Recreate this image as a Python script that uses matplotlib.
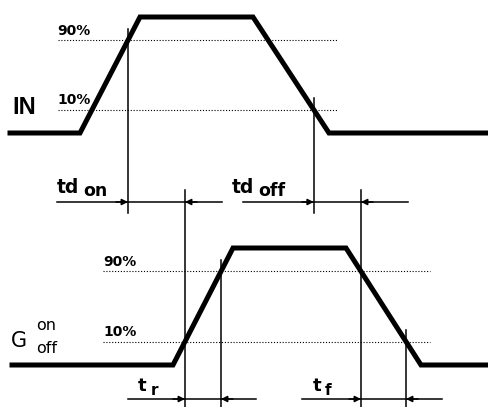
import matplotlib
matplotlib.use("Agg")
import matplotlib.pyplot as plt
import numpy as np

# waveform corner times (x) and levels (0 = low, 1 = high)
in_t = [10, 80, 140, 253, 329, 488]
in_lvl = [0, 0, 1, 1, 0, 0]
g_t = [12, 173, 233, 346, 421, 488]
g_lvl = [0, 0, 1, 1, 0, 0]
# threshold lines as drawn (fraction of swing) and their labels
pct_levels = [0.2, 0.8]
pct_labels = ['10%', '90%']

# vertical layout of the two traces (pixel rows of low / high level)
in_low, in_high = 133, 17
g_low, g_high = 365, 248

fig = plt.figure(figsize=(4.88, 4.07), dpi=100)
ax = fig.add_axes([0, 0, 1, 1])
ax.set_xlim(0, 488)
ax.set_ylim(407, 0)
ax.axis('off')

fam = ['DejaVu Sans']


def lvl_y(lvl, low, high):
    return low - np.asarray(lvl, dtype=float) * (low - high)


def cross(t, lvl, level, rising):
    # crossing time of the rising or falling edge at a given level
    if rising:
        return np.interp(level, [lvl[1], lvl[2]], [t[1], t[2]])
    return np.interp(level, [lvl[4], lvl[3]], [t[4], t[3]])


# waveforms
ax.plot(in_t, lvl_y(in_lvl, in_low, in_high), color='k', lw=3.6, solid_joinstyle='miter')
ax.plot(g_t, lvl_y(g_lvl, g_low, g_high), color='k', lw=3.6, solid_joinstyle='miter')

# dotted 10/90 % lines
for lv, lab in zip(pct_levels, pct_labels):
    y = lvl_y(lv, in_low, in_high)
    ax.plot([58, 338], [y, y], color='k', lw=0.8, ls=(0, (1, 1.6)))
    ax.text(57, y - 5.5, lab, fontsize=10, fontweight='bold', family=fam, va='baseline', ha='left')
    y = lvl_y(lv, g_low, g_high)
    ax.plot([103, 430], [y, y], color='k', lw=0.8, ls=(0, (1, 1.6)))
    ax.text(103, y - 5.5, lab, fontsize=10, fontweight='bold', family=fam, va='baseline', ha='left')

# crossing points
in_on = cross(in_t, in_lvl, 0.8, True)
in_off = cross(in_t, in_lvl, 0.2, False)
g_r10 = cross(g_t, g_lvl, 0.2, True)
g_r90 = cross(g_t, g_lvl, 0.8, True)
g_f90 = cross(g_t, g_lvl, 0.8, False)
g_f10 = cross(g_t, g_lvl, 0.2, False)

# vertical marker lines
vlw = 1.1
ax.plot([in_on, in_on], [29, 213], color='k', lw=vlw)
ax.plot([in_off, in_off], [98, 213], color='k', lw=vlw)
ax.plot([g_r10, g_r10], [190, 407], color='k', lw=vlw)
ax.plot([g_f90, g_f90], [190, 407], color='k', lw=vlw)
ax.plot([g_r90, g_r90], [260, 407], color='k', lw=vlw)
ax.plot([g_f10, g_f10], [330, 407], color='k', lw=vlw)


def dim(x0, x1, y, left_end, right_end):
    # outside-arrows dimension: line with heads pointing inward
    ax.plot([left_end, right_end], [y, y], color='k', lw=vlw)
    ap = dict(arrowstyle='-|>', lw=vlw, color='k', mutation_scale=9, shrinkA=0, shrinkB=0)
    ax.annotate('', xy=(x0, y), xytext=(x0 - 12, y), arrowprops=ap)
    ax.annotate('', xy=(x1, y), xytext=(x1 + 12, y), arrowprops=ap)


dim(in_on, g_r10, 202, 57, 222)
dim(in_off, g_f90, 202, 243, 408)
dim(g_r10, g_r90, 399, 128, 256)
dim(g_f90, g_f10, 399, 302, 442)

# labels
ax.text(12, 114, 'IN', fontsize=17, fontweight='bold', family=['Liberation Sans', 'DejaVu Sans'],
        va='baseline', ha='left')
ax.text(57, 193, 'td', fontsize=13.5, fontweight='bold', family=fam, va='baseline')
ax.text(83, 196, 'on', fontsize=12.5, fontweight='bold', family=fam, va='baseline')
ax.text(232, 193, 'td', fontsize=13.5, fontweight='bold', family=fam, va='baseline')
ax.text(258, 196, 'off', fontsize=12.5, fontweight='bold', family=fam, va='baseline')
ax.text(138, 391, 't', fontsize=13, fontweight='bold', family=fam, va='baseline')
ax.text(151, 395, 'r', fontsize=11, fontweight='bold', family=fam, va='baseline')
ax.text(313, 391, 't', fontsize=13, fontweight='bold', family=fam, va='baseline')
ax.text(325, 395, 'f', fontsize=11, fontweight='bold', family=fam, va='baseline')
ax.text(11, 347, 'G', fontsize=15, family=fam, va='baseline')
ax.text(36, 330, 'on', fontsize=11.5, family=fam, va='baseline')
ax.text(36, 353, 'off', fontsize=11.5, family=fam, va='baseline')

fig.savefig('out.png', dpi=100)
